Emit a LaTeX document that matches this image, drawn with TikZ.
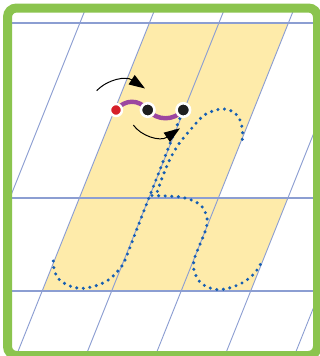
\documentclass[tikz,border=0pt]{standalone}
\usetikzlibrary{arrows.meta}
\definecolor{frameG}{RGB}{139,196,78}
\definecolor{gridB}{RGB}{140,158,210}
\definecolor{bandY}{RGB}{254,235,170}
\definecolor{dotB}{RGB}{22,94,178}
\definecolor{wormM}{RGB}{156,70,160}
\definecolor{tailR}{RGB}{214,32,42}
\definecolor{headK}{RGB}{30,30,30}
\tikzset{
  slant/.style={gridB, line width=0.9pt},
  hline/.style={gridB, line width=1.6pt},
  trace/.style={dotB, line width=3.4pt, line cap=round, dash pattern=on 0pt off 6.6pt},
  worm/.style={wormM, line width=4.4pt},
  hint/.style={black, line width=1pt, -{Triangle[length=16pt,width=11pt]}},
  headdot/.style={circle, fill=headK, draw=white, line width=2.6pt, minimum size=13.5pt, inner sep=0pt},
  taildot/.style={circle, fill=tailR, draw=white, line width=2.4pt, minimum size=12pt, inner sep=0pt},
}
\begin{document}
\begin{tikzpicture}[x=1pt,y=-1pt]
\useasboundingbox (0,0) rectangle (320,356);
\fill[white] (0,0) rectangle (320,356);
\begin{scope}
\clip (8,8) rectangle (316,352);
% yellow band
\fill[bandY] (149.4,23) -- (288.4,23) -- (218.5,197.7) -- (288,197.7) -- (250.7,291) -- (42.2,291) -- cycle;
% slanted guide lines
\foreach \xm in {10,79.5,149,218.5,288,357.5}{
  \draw[slant] ({\xm+0.4*197.7},0) -- ({\xm-0.4*(356-197.7)},356);
}
% horizontal guide lines
\foreach \yy in {23,197.7,291}{
  \draw[hline] (0,\yy) -- (320,\yy);
}
\end{scope}
% dotted letter
\draw[trace] plot[smooth, tension=0.55] coordinates {(53.3,261) (54.5,271) (59,279.3) (69,285.7) (81.7,288.4) (95,286) (107.3,280.7) (117.3,271.7) (125,260) (140,221) (160,169.5) (180,118)};
\draw[trace] plot[smooth, tension=0.55] coordinates {(242.3,139.3) (242.5,130) (239.5,119) (233.5,112) (224,109) (214,110.6) (203,116) (191.7,128.3) (179.3,143.3) (170.5,158) (164.3,172.3) (159.5,185) (156,195.5)};
\draw[trace] plot[smooth, tension=0.55] coordinates {(152,195.5) (165.7,196) (180,197) (192.7,200.5) (201.5,206) (206,214) (207.3,222) (205,232) (200,244.3) (195,256.7) (193.3,265) (195,273.3) (199.5,281.5) (206.7,286.7) (218.3,289.7) (231.7,287.3) (244.3,281.7) (255,272.7) (262.3,261)};
% caterpillar
\coordinate (tailc) at (116,110);
\coordinate (midc) at (147.7,110);
\coordinate (headc) at (183.3,110);
\draw[worm] (tailc) .. controls (125,99) and (139,99) .. (midc);
\draw[worm] (midc) .. controls (157,121) and (174,121) .. (headc);
\node[taildot] (tail) at (tailc) {};
\node[headdot] (mid) at (midc) {};
\node[headdot] (head) at (headc) {};
% direction arrows
\coordinate (a1s) at (96.7,90.7);
\coordinate (a1e) at (145,88.5);
\coordinate (a2s) at (133.3,125);
\coordinate (a2e) at (180,128.3);
\draw[hint] (a1s) .. controls (108,79) and (126,76) .. (a1e);
\draw[hint] (a2s) .. controls (141,136) and (160,142) .. (a2e);
% frame
\draw[frameG, line width=9pt, rounded corners=9pt] (7.5,8) rectangle (317.5,355.5);
\end{tikzpicture}
\end{document}
